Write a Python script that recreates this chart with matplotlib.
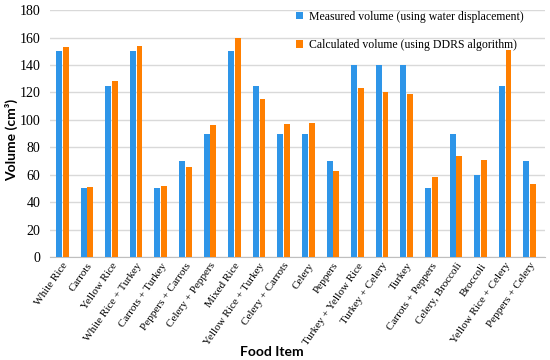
import numpy as np
import matplotlib.pyplot as plt

# Food items and the two volume series (cm^3)
foods = ['White Rice', 'Carrots', 'Yellow Rice', 'White Rice + Turkey', 'Carrots + Turkey',
         'Peppers + Carrots', 'Celery + Peppers', 'Mixed Rice', 'Yellow Rice + Turkey',
         'Celery + Carrots', 'Celery', 'Peppers', 'Turkey + Yellow Rice', 'Turkey + Celery',
         'Turkey', 'Carrots + Peppers', 'Celery, Broccoli', 'Broccoli', 'Yellow Rice + Celery',
         'Peppers + Celery']
measured = [150, 50, 125, 150, 50, 70, 90, 150, 125, 90, 90, 70, 140, 140, 140, 50, 90, 60, 125, 70]
calculated = [153, 51, 128.5, 154, 52, 65.5, 96, 159.5, 115.5, 97, 98, 62.5, 123, 120.5, 119, 58.5, 74, 70.5, 151, 53.5]

blue = '#2E95E8'
orange = '#FF7F00'

fig = plt.figure(figsize=(5.5, 3.6), dpi=100)
ax = fig.add_axes([0.091, 0.286, 0.899, 0.686])

x = np.arange(len(foods))
w = 0.24
ax.bar(x - 0.135, measured, w, color=blue, label='Measured volume (using water displacement)', zorder=3)
ax.bar(x + 0.135, calculated, w, color=orange, label='Calculated volume (using DDRS algorithm)', zorder=3)

ax.set_ylim(0, 180)
ax.set_yticks(range(0, 181, 20))
ax.set_xlim(-0.5, 19.6)
ax.set_xticks(x)
ax.set_xticklabels(foods, rotation=55, ha='right', rotation_mode='anchor',
                   family='Liberation Serif', fontsize=8)
for lab in ax.get_yticklabels():
    lab.set_family('Liberation Serif')
    lab.set_fontsize(10)

ax.grid(axis='y', color='#d9d9d9', linewidth=1, zorder=0)
for s in ['top', 'right', 'left']:
    ax.spines[s].set_visible(False)
ax.spines['bottom'].set_color('#bfbfbf')
ax.tick_params(axis='both', length=0)
ax.tick_params(axis='x', pad=3)
ax.tick_params(axis='y', pad=7)

# axis titles placed by hand to sit where the reference has them
fig.text(12 / 550, 1 - 140 / 360, 'Volume (cm³)', rotation=90, ha='center', va='center',
         fontweight='bold', family='Lato', fontsize=10)
fig.text(272 / 550, 1 - 352 / 360, 'Food Item', ha='center', va='center',
         fontweight='bold', family='Lato', fontsize=10)

ax.legend(loc='upper left', bbox_to_anchor=(0.475, 1.04), frameon=False,
          prop={'family': 'Liberation Serif', 'size': 8.5}, handlelength=0.6,
          handleheight=0.6, handletextpad=0.5, labelspacing=1.4)

fig.savefig('out.png', dpi=100)
